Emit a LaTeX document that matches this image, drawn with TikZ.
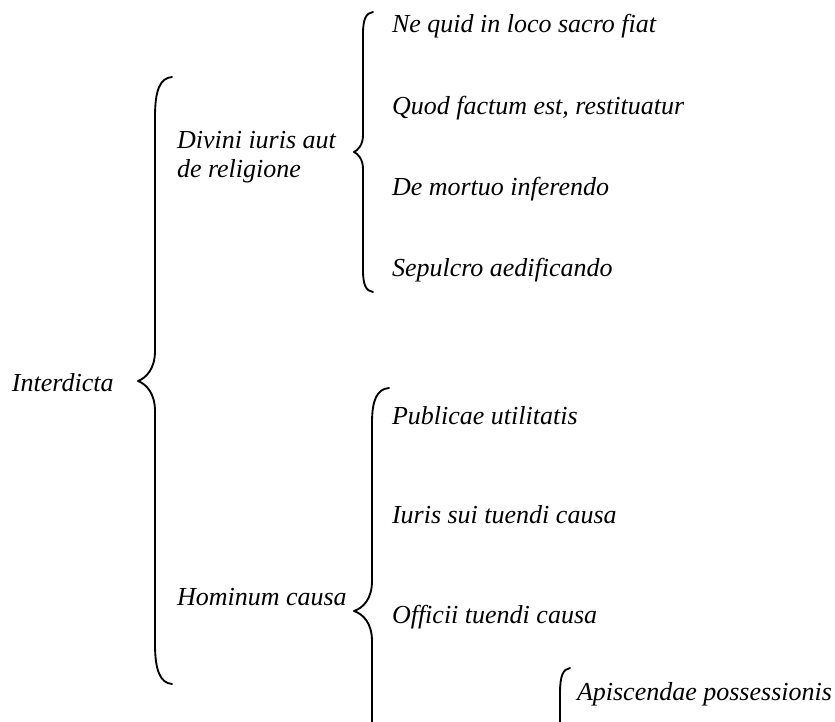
\documentclass[tikz,border=0pt]{standalone}
\usepackage{fontspec}
\setmainfont{Liberation Serif}
\usepackage{tikz}

\begin{document}
\begin{tikzpicture}[x=0.75pt, y=-0.75pt,
  every node/.style={anchor=base west, inner sep=0pt, outer sep=0pt,
    font=\itshape\fontsize{19.5}{21.75}\selectfont},
  curly/.style={line width=1.4pt, line cap=round, line join=round}]
\useasboundingbox (0,0) rectangle (835,721);
\clip (0,0) rectangle (835,721);

\node (interdicta) at (12,391) {Interdicta};
\node[align=left] (divini) at (177,177) {Divini iuris aut\\de religione};
\node (hominum) at (177,605) {Hominum causa};

\node (nequid) at (392,32) {Ne quid in loco sacro fiat};
\node (quod) at (392,114) {Quod factum est, restituatur};
\node (mortuo) at (392,195) {De mortuo inferendo};
\node (sepulcro) at (392,276) {Sepulcro aedificando};

\node (publicae) at (392,424) {Publicae utilitatis};
\node (iuris) at (392,523) {Iuris sui tuendi causa};
\node (officii) at (392,623) {Officii tuendi causa};
\node (apiscendae) at (577,700) {Apiscendae possessionis};

% braces
\draw[curly] (172,77) .. controls (160,78) and (155,90) .. (155,117)
  -- (155,351) .. controls (155,369) and (146,378) .. (138,381)
  .. controls (146,384) and (155,393) .. (155,411)
  -- (155,644) .. controls (155,670) and (160,683) .. (172,684);
\draw[curly] (373,12) .. controls (366,13) and (363,19) .. (363,34)
  -- (363,135) .. controls (363,145) and (358,150) .. (354,152)
  .. controls (358,154) and (363,159) .. (363,169)
  -- (363,270) .. controls (363,285) and (366,291) .. (373,292);
\draw[curly] (389,388) .. controls (377,389) and (372,400) .. (372,423)
  -- (372,581) .. controls (372,599) and (363,608) .. (354,611)
  .. controls (363,614) and (372,623) .. (372,641)
  -- (372,760);
\draw[curly] (570,668) .. controls (563,669) and (560,676) .. (560,693)
  -- (560,760);
\end{tikzpicture}
\end{document}
